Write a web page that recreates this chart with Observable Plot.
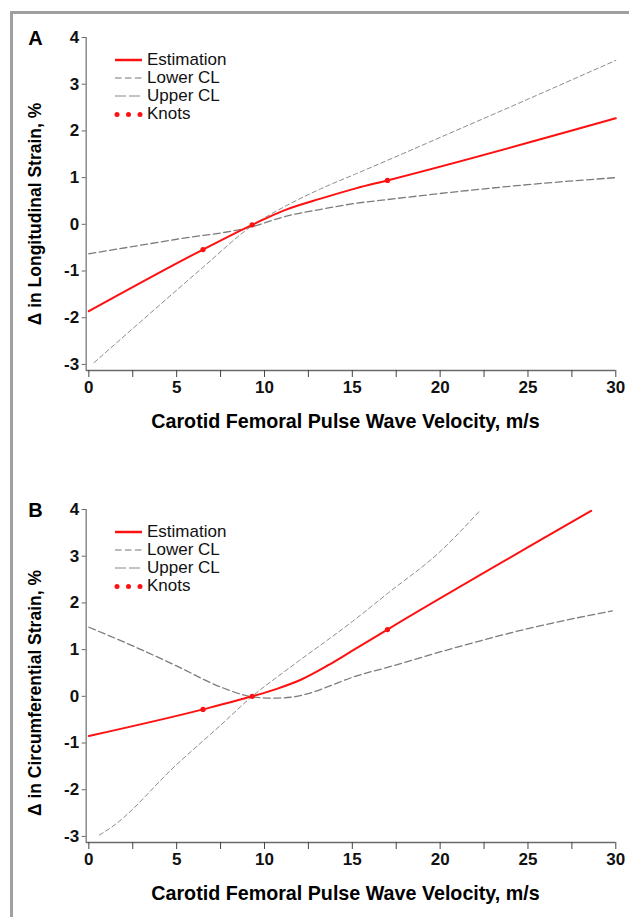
<!DOCTYPE html>
<html>
<head>
<meta charset="utf-8">
<script src="https://cdn.jsdelivr.net/npm/d3@7"></script>
<script src="https://cdn.jsdelivr.net/npm/@observablehq/plot@0.6"></script>
<style>
  html, body { margin: 0; padding: 0; background: #fff; }
  body { font-family: "Liberation Sans", Arial, sans-serif; }
  #page { position: relative; width: 629px; height: 917px; overflow: hidden; background: #fff; }
  #frame { position: absolute; left: 10px; top: 11px; width: 700px; height: 1000px;
           border-top: 3px solid #a0a0a0; border-left: 3px solid #a0a0a0; }
  .panel { position: absolute; left: 0; width: 629px; height: 460px; }
  .panel > svg { position: absolute; left: 0; top: 0; }
  .letter { position: absolute; font-weight: bold; font-size: 20px; line-height: 20px; transform: translate(-50%, -50%); }
  .xtitle { position: absolute; font-weight: bold; font-size: 19.7px; white-space: nowrap; transform: translateX(-50%); line-height: 1; }
  .ytitle { position: absolute; font-weight: bold; font-size: 17.5px; white-space: nowrap; line-height: 1;
            transform: translate(-50%, -50%) rotate(-90deg); }
  .legend { position: absolute; left: 114px; top: 50.5px; font-size: 17px; color: #111; }
  .legend .row { height: 18px; display: flex; align-items: center; }
  .legend svg { position: static; width: 33px; height: 18px; flex: none; }
  .legend span { line-height: 18px; }
</style>
</head>
<body>
<div id="page">
  <div id="frame"></div>
</div>
<script>
// ---------------- Data ----------------
const panelLetters = ["A", "B"];
const yTitles = ["Δ in Longitudinal Strain, %", "Δ in Circumferential Strain, %"];
const xTitle = "Carotid Femoral Pulse Wave Velocity, m/s";
const legendLabels = ["Estimation", "Lower CL", "Upper CL", "Knots"];
const xTickValues = [0, 2.5, 5, 7.5, 10, 12.5, 15, 17.5, 20, 22.5, 25, 27.5, 30];
const yTickValues = [-3, -2, -1, 0, 1, 2, 3, 4];

// Panel A: longitudinal strain
const aEstX = [0, 6.5, 9.3, 11.2, 13.2, 15.2, 17, 30];
const aEstY = [-1.86, -0.54, -0.01, 0.31, 0.55, 0.77, 0.94, 2.27];
const aLowX = [0, 5, 9.3, 11.2, 13.2, 15.2, 17, 20, 25, 30];
const aLowY = [-0.63, -0.32, -0.05, 0.17, 0.32, 0.45, 0.53, 0.66, 0.85, 1.0];
const aUppX = [0.3, 5, 6.5, 9.3, 11.2, 13.2, 15.2, 17, 20, 25, 30];
const aUppY = [-2.96, -1.41, -0.92, -0.03, 0.39, 0.76, 1.08, 1.37, 1.86, 2.68, 3.51];
const aKnotX = [6.5, 9.3, 17];
const aKnotY = [-0.54, -0.01, 0.94];

// Panel B: circumferential strain
const bEstX = [0, 6.5, 9.3, 10.7, 12.1, 13.6, 15.1, 17, 28.6];
const bEstY = [-0.85, -0.28, 0.0, 0.16, 0.36, 0.66, 1.0, 1.43, 3.97];
const bLowX = [0, 2.5, 5, 7.5, 9.3, 10.4, 11.5, 12.5, 13.5, 15.1, 17, 20, 25, 29.8];
const bLowY = [1.48, 1.08, 0.65, 0.2, -0.01, -0.04, -0.02, 0.06, 0.19, 0.42, 0.62, 0.95, 1.45, 1.83];
const bUppX = [0.6, 1.3, 5, 7.5, 9.3, 11.1, 12, 15.1, 17, 20, 22.2];
const bUppY = [-2.97, -2.8, -1.46, -0.62, 0.0, 0.52, 0.77, 1.63, 2.2, 3.1, 3.95];
const bKnotX = [6.5, 9.3, 17];
const bKnotY = [-0.28, 0.0, 1.43];

// ---------------- Helpers ----------------
const zip = (xs, ys) => xs.map((x, i) => ({x, y: ys[i]}));
const XMIN = -0.15, XMAX = 30, YMIN = -3.13, YMAX = 4;
const RED = "#ff1010";
const LOW_STYLE = {stroke: "#7c7c7c", strokeWidth: 1.3, strokeDasharray: "7,3.5"};
const UPP_STYLE = {stroke: "#8c8c8c", strokeWidth: 1, strokeDasharray: "4.5,3"};

const panels = [
  {est: zip(aEstX, aEstY), low: zip(aLowX, aLowY), upp: zip(aUppX, aUppY), knots: zip(aKnotX, aKnotY)},
  {est: zip(bEstX, bEstY), low: zip(bLowX, bLowY), upp: zip(bUppX, bUppY), knots: zip(bKnotX, bKnotY)}
];

const page = document.getElementById("page");
const offsets = [0, 472];

panels.forEach((p, i) => {
  const top = offsets[i];
  const wrap = document.createElement("div");
  wrap.className = "panel";
  wrap.style.top = top + "px";

  const chart = Plot.plot({
    width: 629,
    height: 460,
    marginLeft: 85.7,
    marginRight: 13.7,
    marginTop: 37,
    marginBottom: 90,
    x: {domain: [XMIN, XMAX]},
    y: {domain: [YMIN, YMAX]},
    style: {fontFamily: "'Liberation Sans', Arial, sans-serif",
            background: "transparent", color: "#111", overflow: "visible"},
    marks: [
      Plot.ruleX([XMIN], {stroke: "#8a8a8a", strokeWidth: 1.5}),
      Plot.ruleY([YMIN], {stroke: "#6a6a6a", strokeWidth: 1.5}),
      Plot.axisX({ticks: xTickValues, tickSize: 7, tickPadding: 3, stroke: "#444",
                  tickFormat: d => d % 5 === 0 ? String(d) : "", label: null}),
      Plot.axisY({ticks: yTickValues, tickSize: 4, tickPadding: 3, stroke: "#666",
                  tickFormat: d => String(d), label: null}),
      Plot.line(p.low, {x: "x", y: "y", curve: "monotone-x", ...LOW_STYLE}),
      Plot.line(p.upp, {x: "x", y: "y", curve: "monotone-x", ...UPP_STYLE}),
      Plot.line(p.est, {x: "x", y: "y", curve: "monotone-x", stroke: RED, strokeWidth: 2}),
      Plot.dot(p.knots, {x: "x", y: "y", r: 2.6, fill: RED, stroke: "none"})
    ]
  });
  // enlarge and embolden tick labels
  chart.querySelectorAll("text").forEach(t => {
    t.style.fontSize = "17px";
    t.style.fontWeight = "bold";
    t.style.fill = "#111";
  });
  wrap.appendChild(chart);

  // panel letter
  const letter = document.createElement("div");
  letter.className = "letter";
  letter.style.left = "35.5px";
  letter.style.top = "38px";
  letter.textContent = panelLetters[i];
  wrap.appendChild(letter);

  // y title
  const yt = document.createElement("div");
  yt.className = "ytitle";
  yt.style.left = "35.7px";
  yt.style.top = (i === 0 ? 214 : 221) + "px";
  yt.textContent = yTitles[i];
  wrap.appendChild(yt);

  // x title
  const xt = document.createElement("div");
  xt.className = "xtitle";
  xt.style.left = "345.5px";
  xt.style.top = "412px";
  xt.textContent = xTitle;
  wrap.appendChild(xt);

  // legend
  const lg = document.createElement("div");
  lg.className = "legend";
  const ns = "http://www.w3.org/2000/svg";
  legendLabels.forEach((lab, k) => {
    const row = document.createElement("div");
    row.className = "row";
    const s = document.createElementNS(ns, "svg");
    s.setAttribute("width", 33); s.setAttribute("height", 18);
    if (k === 3) {
      [3, 14.5, 26].forEach(cx => {
        const c = document.createElementNS(ns, "circle");
        c.setAttribute("cx", cx); c.setAttribute("cy", 9.5); c.setAttribute("r", 2.5);
        c.setAttribute("fill", RED);
        s.appendChild(c);
      });
    } else {
      const l = document.createElementNS(ns, "line");
      l.setAttribute("x1", 1); l.setAttribute("x2", 28);
      l.setAttribute("y1", 9); l.setAttribute("y2", 9);
      if (k === 0) { l.setAttribute("stroke", RED); l.setAttribute("stroke-width", 2.5); }
      if (k === 1) { l.setAttribute("stroke", "#777"); l.setAttribute("stroke-width", 1.2); l.setAttribute("stroke-dasharray", "6.5,3.5"); }
      if (k === 2) { l.setAttribute("stroke", "#888"); l.setAttribute("stroke-width", 1); l.setAttribute("stroke-dasharray", "11,3"); }
      s.appendChild(l);
    }
    row.appendChild(s);
    const t = document.createElement("span");
    t.textContent = lab;
    row.appendChild(t);
    lg.appendChild(row);
  });
  wrap.appendChild(lg);

  page.appendChild(wrap);
});
</script>
</body>
</html>
